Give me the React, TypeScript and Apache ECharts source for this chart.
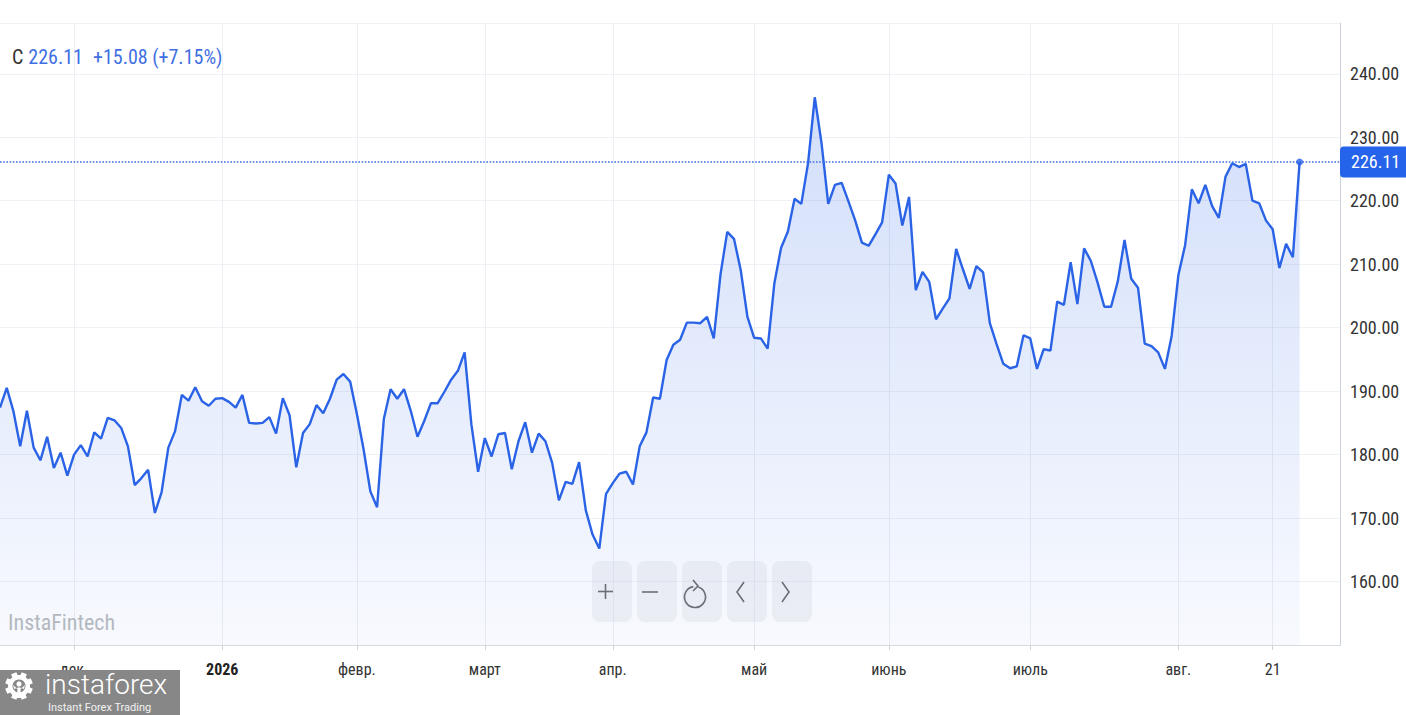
import React, { useEffect, useRef } from 'react';
import * as echarts from 'echarts';

const prices = [
  187.4, 190.5, 186.8, 181.3, 186.9, 181.1, 179.1, 182.8, 177.9, 180.3,
  176.7, 180.0, 181.5, 179.7, 183.5, 182.5, 185.8, 185.4, 184.2, 181.3,
  175.2, 176.3, 177.6, 170.8, 174.1, 181.1, 183.7, 189.4, 188.5, 190.6,
  188.4, 187.7, 188.8, 188.9, 188.3, 187.4, 189.4, 185.0, 184.9, 185.0,
  185.9, 183.3, 188.9, 186.2, 178.0, 183.4, 184.8, 187.8, 186.5, 188.8,
  191.8, 192.7, 191.5, 186.4, 180.8, 174.2, 171.7, 185.6, 190.3, 188.8,
  190.3, 186.9, 182.8, 185.3, 188.1, 188.1, 189.9, 191.8, 193.2, 196.1,
  184.8, 177.3, 182.6, 179.7, 183.2, 183.4, 177.7, 182.1, 185.1, 180.3,
  183.3, 182.1, 178.7, 172.8, 175.7, 175.4, 178.8, 171.2, 167.4, 165.2,
  173.8, 175.5, 177.0, 177.3, 175.3, 181.3, 183.5, 189.0, 188.8, 194.9,
  197.3, 198.1, 200.8, 200.8, 200.7, 201.7, 198.3, 208.4, 215.1, 214.0,
  209.1, 201.7, 198.4, 198.3, 196.7, 207.0, 212.6, 215.1, 220.3, 219.5,
  225.9, 236.3, 229.1, 219.5, 222.5, 222.8, 219.9, 216.9, 213.4, 212.9,
  214.7, 216.6, 224.1, 222.7, 216.1, 220.6, 205.9, 208.8, 207.2, 201.3,
  203.0, 204.6, 212.4, 209.2, 206.1, 209.7, 208.7, 200.7, 197.4, 194.3,
  193.6, 193.9, 198.8, 198.3, 193.5, 196.6, 196.4, 204.1, 203.6, 210.3,
  203.7, 212.5, 210.5, 207.1, 203.3, 203.3, 207.3, 213.8, 207.7, 206.3,
  197.5, 197.1, 196.1, 193.5, 198.7, 208.3, 213.0, 221.8, 219.6, 222.5,
  219.2, 217.3, 223.8, 225.9, 225.3, 225.8, 220.0, 219.6, 216.9, 215.5,
  209.4, 213.2, 211.1, 226.11,
];

// total slots on the category axis (data + empty space on the right)
const slotCount = 200;
const monthTickIndex = [11, 33, 53, 72, 91, 112, 132, 153, 175, 189];
const monthLabels = ['дек.', '2026', 'февр.', 'март', 'апр.', 'май', 'июнь', 'июль', 'авг.', '21'];
const yTickLabels = [160, 170, 180, 190, 200, 210, 220, 230, 240];

const symbolName = 'C';
const lastPriceText = '226.11';
const changeText = '+15.08 (+7.15%)';

const BLUE = '#2a63e6';
const FONT = "'Liberation Sans Narrow', 'Roboto Condensed', Roboto, sans-serif";

export default function App() {
  const ref = useRef<HTMLDivElement>(null);

  useEffect(() => {
    if (!ref.current) return;
    const chart = echarts.init(ref.current, null, { renderer: 'svg' });

    const categories = Array.from({ length: slotCount }, (_, i) => String(i));
    const labelMap: Record<string, string> = {};
    monthTickIndex.forEach((idx, k) => {
      labelMap[String(idx)] = monthLabels[k];
    });
    const isTick = (index: number) => monthTickIndex.indexOf(index) >= 0;
    const lastIdx = prices.length - 1;
    const lastVal = prices[lastIdx];

    const btnY = 561;
    const btnH = 61;
    const btnW = 40;
    const btnXs = [592, 637, 682, 727, 772];
    const iconStroke = { stroke: '#6b6f75', lineWidth: 1.6, fill: 'none' };

    const graphic: any[] = [];
    btnXs.forEach((x) => {
      graphic.push({
        type: 'rect',
        shape: { x, y: btnY, width: btnW, height: btnH, r: 8 },
        style: { fill: 'rgba(205,210,220,0.28)' },
        z: 10,
      });
    });
    // plus
    graphic.push({ type: 'line', shape: { x1: 598, y1: 591.5, x2: 613, y2: 591.5 }, style: iconStroke, z: 11 });
    graphic.push({ type: 'line', shape: { x1: 605.5, y1: 584, x2: 605.5, y2: 599 }, style: iconStroke, z: 11 });
    // minus
    graphic.push({ type: 'line', shape: { x1: 642, y1: 592, x2: 658, y2: 592 }, style: iconStroke, z: 11 });
    // reload
    graphic.push({
      type: 'arc',
      shape: { cx: 695, cy: 597, r: 10.5, startAngle: -1.25, endAngle: 4.55, clockwise: true },
      style: iconStroke,
      z: 11,
    });
    graphic.push({ type: 'polyline', shape: { points: [[693, 580], [698, 586], [693, 591]] }, style: iconStroke, z: 11 });
    // chevrons
    graphic.push({ type: 'polyline', shape: { points: [[744, 582], [737, 592], [744, 602]] }, style: iconStroke, z: 11 });
    graphic.push({ type: 'polyline', shape: { points: [[782, 582], [789, 592], [782, 602]] }, style: iconStroke, z: 11 });

    // watermark
    graphic.push({
      type: 'text',
      x: 8,
      y: 622,
      style: { text: 'InstaFintech', fill: '#b4b8be', font: `22px ${FONT}`, textVerticalAlign: 'middle' },
      z: 5,
    });

    // instaforex logo
    graphic.push({ type: 'rect', shape: { x: 0, y: 670, width: 180, height: 45 }, style: { fill: '#878787' }, z: 20 });
    const gcx = 19;
    const gcy = 686;
    for (let k = 0; k < 8; k++) {
      const a = (k * Math.PI) / 4 + Math.PI / 8;
      graphic.push({
        type: 'rect',
        x: gcx + Math.cos(a) * 11,
        y: gcy + Math.sin(a) * 11,
        rotation: -a,
        shape: { x: -2.8, y: -2.8, width: 5.6, height: 5.6 },
        style: { fill: '#ffffff' },
        z: 21,
      });
    }
    graphic.push({ type: 'ring', shape: { cx: gcx, cy: gcy, r: 11, r0: 6.5 }, style: { fill: '#ffffff' }, z: 21 });
    graphic.push({ type: 'circle', shape: { cx: gcx, cy: gcy - 2, r: 2.6 }, style: { fill: '#ffffff' }, z: 22 });
    graphic.push({
      type: 'polygon',
      shape: { points: [[gcx - 6, gcy - 1], [gcx - 1.5, gcy + 3], [gcx - 2, gcy + 12], [gcx + 2, gcy + 12], [gcx + 1.5, gcy + 3], [gcx + 6, gcy - 1], [gcx + 5, gcy + 3], [gcx + 1, gcy + 1.5], [gcx - 1, gcy + 1.5], [gcx - 5, gcy + 3]] },
      style: { fill: '#ffffff' },
      z: 22,
    });
    graphic.push({
      type: 'text',
      x: 45,
      y: 684,
      style: { text: 'instaforex', fill: '#ffffff', font: `300 28px Roboto, sans-serif`, textVerticalAlign: 'middle' },
      z: 22,
    });
    graphic.push({
      type: 'text',
      x: 48,
      y: 707,
      style: { text: 'Instant Forex Trading', fill: '#f2f2f2', font: `11px Roboto, sans-serif`, textVerticalAlign: 'middle' },
      z: 22,
    });

    const option: any = {
      animation: false,
      backgroundColor: '#ffffff',
      title: {
        text: `{c|${symbolName}} {v|${lastPriceText}}  {v|${changeText}}`,
        left: 7,
        top: 42,
        textStyle: {
          fontWeight: 'normal',
          rich: {
            c: { fontFamily: FONT, fontSize: 20, fontWeight: 'normal', color: '#333333' },
            v: { fontFamily: FONT, fontSize: 20, fontWeight: 'normal', color: '#3f6fe3' },
          },
        },
      },
      grid: { left: 0, right: 66, top: 23, bottom: 70 },
      xAxis: {
        type: 'category',
        data: categories,
        boundaryGap: false,
        axisLine: { show: true, lineStyle: { color: '#d6dce4', width: 1 } },
        axisTick: { show: true, interval: (i: number) => isTick(i), length: 5, lineStyle: { color: '#cdd3db' } },
        splitLine: { show: true, interval: (i: number) => isTick(i), lineStyle: { color: '#eceff3', width: 1 } },
        axisLabel: {
          show: true,
          interval: (i: number) => isTick(i),
          margin: 16,
          fontFamily: FONT,
          fontSize: 16,
          color: '#333333',
          formatter: (v: string) => {
            const t = labelMap[v] || '';
            return t === '2026' ? `{b|${t}}` : t;
          },
          rich: { b: { fontFamily: FONT, fontSize: 16, fontWeight: 'bold', color: '#222222' } },
        },
      },
      yAxis: {
        type: 'value',
        position: 'right',
        min: 150,
        max: 248,
        interval: 10,
        axisLine: { show: true, lineStyle: { color: '#cbd1d9', width: 1 } },
        axisTick: { show: false },
        splitLine: { show: true, lineStyle: { color: '#eff1f4', width: 1 } },
        axisLabel: {
          margin: 10,
          fontFamily: FONT,
          fontSize: 18,
          color: '#333333',
          formatter: (v: number) => (yTickLabels.indexOf(v) >= 0 ? v.toFixed(2) : ''),
        },
      },
      series: [
        {
          type: 'line',
          data: prices,
          showSymbol: false,
          symbol: 'none',
          lineStyle: { color: BLUE, width: 2.4 },
          areaStyle: {
            color: new echarts.graphic.LinearGradient(0, 0, 0, 1, [
              { offset: 0, color: 'rgba(42,99,230,0.30)' },
              { offset: 1, color: 'rgba(42,99,230,0.05)' },
            ]),
          },
          markLine: {
            silent: true,
            symbol: 'none',
            lineStyle: { color: '#3f6fe3', type: 'dotted', width: 1.6 },
            data: [{ yAxis: lastVal }],
            label: {
              show: true,
              position: 'end',
              distance: 0,
              formatter: lastVal.toFixed(2),
              color: '#ffffff',
              backgroundColor: '#2563eb',
              borderRadius: [4, 0, 0, 4],
              padding: [7, 12, 6, 11],
              fontFamily: FONT,
              fontSize: 18,
            },
          },
        },
        {
          type: 'scatter',
          data: [[lastIdx, lastVal]],
          symbol: 'circle',
          symbolSize: 7,
          itemStyle: { color: BLUE },
          silent: true,
          z: 5,
        },
      ],
      graphic,
    };

    chart.setOption(option);
    return () => chart.dispose();
  }, []);

  return <div ref={ref} style={{ position: 'fixed', left: 0, top: 0, width: 1406, height: 715 }} />;
}
